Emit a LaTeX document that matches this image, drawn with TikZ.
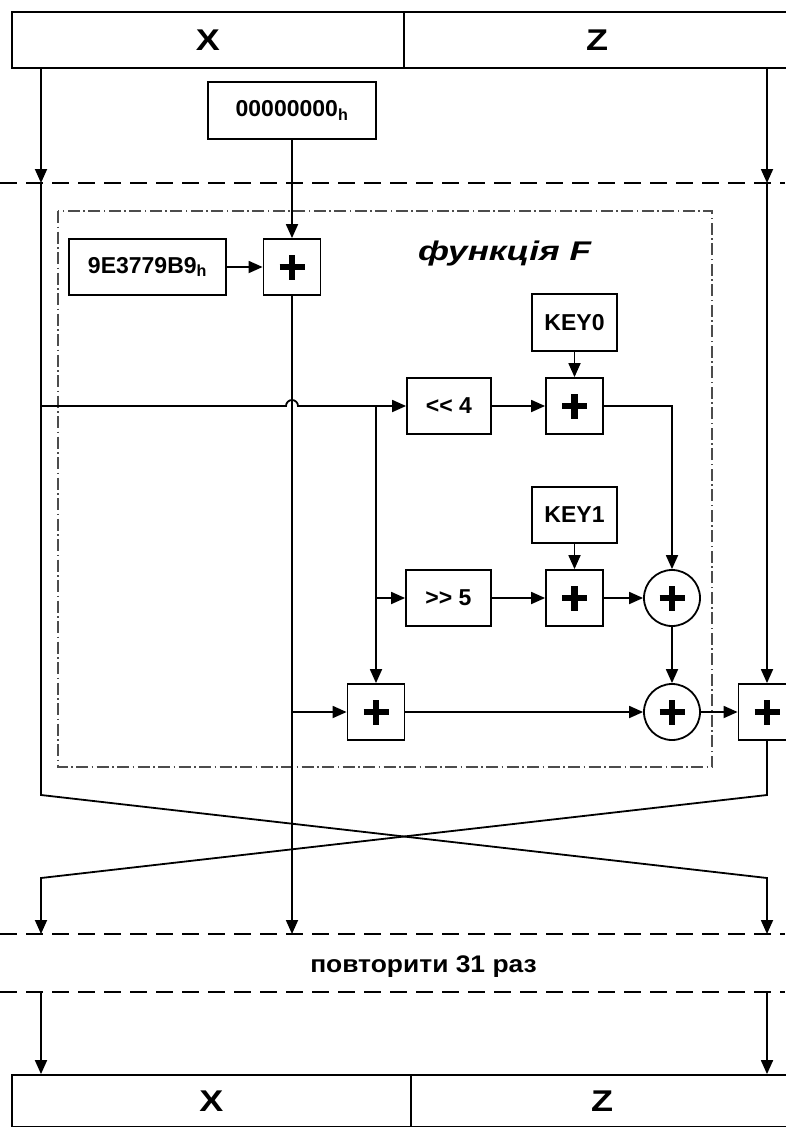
\documentclass[tikz,border=0pt]{standalone}
\usepackage{fontspec}
\setmainfont{Liberation Sans}
\newfontfamily\widesans[FakeStretch=1.2]{Liberation Sans}
\newfontfamily\widersans[FakeStretch=1.3]{Liberation Sans}
\newfontfamily\notesans[FakeStretch=1.1]{Liberation Sans}
\usetikzlibrary{arrows.meta,calc}

\tikzset{
  x=1pt, y=-1pt,
  link/.style={line width=1.8pt},
  arr/.style={link, -{Triangle[length=14pt,width=12pt]}},
  sepline/.style={line width=1.8pt, dash pattern=on 17pt off 9pt},
  fframe/.style={line width=1.2pt, draw=black!70, dash pattern=on 12pt off 3.5pt on 1.5pt off 3.5pt},
  bar/.style={draw, line width=1.8pt, inner sep=0pt, font=\widesans\fontsize{30}{30}\selectfont\bfseries},
  lbox/.style={draw, line width=1.8pt, inner sep=0pt, minimum height=56pt, font=\fontsize{23}{23}\selectfont\bfseries},
  plusmark/.style={path picture={
      \draw[line width=6.5pt]
        ([xshift=-12.5pt]path picture bounding box.center) -- ([xshift=12.5pt]path picture bounding box.center)
        ([yshift=-12.5pt]path picture bounding box.center) -- ([yshift=12.5pt]path picture bounding box.center);}},
  addbox/.style={draw, line width=1.8pt, minimum width=57pt, minimum height=56pt, inner sep=0pt, plusmark},
  xorc/.style={circle, draw, line width=1.8pt, minimum size=56pt, inner sep=0pt, plusmark},
}

\begin{document}
\begin{tikzpicture}
\useasboundingbox (0,0) rectangle (785,1127);

% register halves at the top and at the bottom
\node[bar, minimum width=392pt, minimum height=56pt] (X1) at (208,40) {X};
\node[bar, minimum width=386pt, minimum height=56pt] (Z1) at (597,40) {Z};
\node[bar, minimum width=399pt, minimum height=52pt] (X2) at (211.5,1101) {X};
\node[bar, minimum width=382pt, minimum height=52pt] (Z2) at (602,1101) {Z};

% round separators
\coordinate (sA1) at (0,183);   \coordinate (sA2) at (785,183);
\coordinate (sB1) at (0,934);   \coordinate (sB2) at (785,934);
\coordinate (sC1) at (0,992);   \coordinate (sC2) at (785,992);
\draw[sepline] (sA1) -- (sA2);
\draw[sepline] (sB1) -- (sB2);
\draw[sepline] (sC1) -- (sC2);

% frame of the round function
\coordinate (fTL) at (58,211);  \coordinate (fBR) at (712,767);
\draw[fframe] (fTL) rectangle (fBR);
\node[font=\widersans\fontsize{27}{27}\selectfont\bfseries\itshape, anchor=base] (fname) at (504.5,260) {функція F};

% delta sum
\node[lbox, minimum width=168pt, minimum height=57pt] (zero) at (292,110.5) {00000000\textsubscript{h}};
\node[lbox, minimum width=157pt] (delta) at (147.5,267) {9E3779B9\textsubscript{h}};
\node[addbox] (addD) at (292,267) {};

% key and shift blocks
\node[lbox, minimum width=85pt, minimum height=57pt] (key0) at (574.5,322.5) {KEY0};
\node[lbox, minimum width=84pt] (shl) at (449,406) {{<}{<} 4};
\node[addbox] (add0) at (574.5,406) {};
\node[lbox, minimum width=85pt] (key1) at (574.5,515) {KEY1};
\node[lbox, minimum width=85pt] (shr) at (448.5,598) {{>}{>} 5};
\node[addbox] (add1) at (574.5,598) {};
\node[xorc] (xor1) at (672,598) {};
\node[xorc] (xor2) at (672,712) {};
\node[addbox] (addS) at (376,712) {};
\node[addbox] (addR) at (767,712) {};

% lane points
\coordinate (xa) at (41,183);  \coordinate (za) at (767,183);
\coordinate (xb) at (41,795);  \coordinate (zb) at (767,795);
\coordinate (xc) at (41,878);  \coordinate (zc) at (767,878);
\coordinate (xd) at (41,934);  \coordinate (zd) at (767,934);
\coordinate (md) at (292,934);
\coordinate (xe) at (41,992);  \coordinate (ze) at (767,992);
\coordinate (feed) at (41,406);
\coordinate (hump) at (292,406);
\coordinate (br) at (376,406);
\coordinate (br2) at (376,598);
\coordinate (mid2) at (292,712);
\coordinate (turn0) at (672,406);

% left and right lanes into the round
\draw[arr] (X1.south -| xa) -- (xa);
\draw[arr] (Z1.south -| za) -- (za);

% delta path
\draw[arr] (zero.south) -- (addD.north);
\draw[arr] (delta.east) -- (addD.west);
\draw[arr] (addD.south) -- (md);
\draw[arr] (mid2) -- (addS.west);

% X feeds the function, hopping over the delta line
\draw[arr] (feed) -- ([xshift=-6pt]hump) arc[start angle=180, end angle=0, radius=6pt] -- (shl.west);
\draw[arr] (br) -- (addS.north);
\draw[arr] (br2) -- (shr.west);

% upper branch
\draw[arr] (key0.south) -- (add0.north);
\draw[arr] (shl.east) -- (add0.west);
\draw[arr] (add0.east) -- (turn0) -- (xor1.north);

% lower branch
\draw[arr] (key1.south) -- (add1.north);
\draw[arr] (shr.east) -- (add1.west);
\draw[arr] (add1.east) -- (xor1.west);

% combining
\draw[arr] (xor1.south) -- (xor2.north);
\draw[arr] (addS.east) -- (xor2.west);
\draw[arr] (xor2.east) -- (addR.west);
\draw[arr] (za) -- (addR.north);

% swap of the halves
\draw[arr] (xa) -- (xb) -- (zc) -- (zd);
\draw[arr] (addR.south) -- (zb) -- (xc) -- (xd);

% repetition note
\node[font=\notesans\fontsize{24}{24}\selectfont\bfseries, anchor=base] (rep) at (423.5,972) {повторити 31 раз};

% last round output
\draw[arr] (xe) -- (X2.north -| xe);
\draw[arr] (ze) -- (Z2.north -| ze);
\end{tikzpicture}
\end{document}
